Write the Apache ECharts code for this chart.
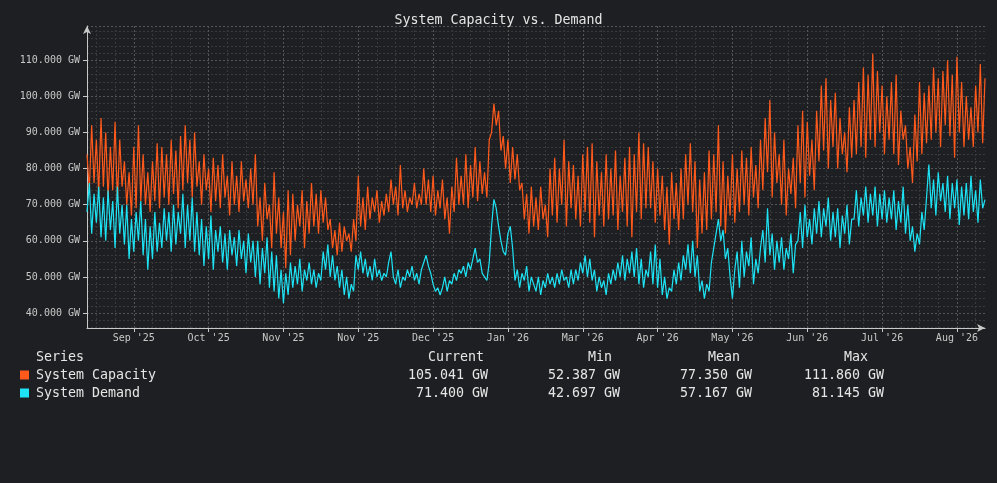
<!DOCTYPE html>
<html lang="en">
<head>
    <meta charset="UTF-8">
    <title>System Capacity vs. Demand</title>
    <script type="text/javascript" src="https://cdn.jsdelivr.net/npm/echarts@6/dist/echarts.min.js"></script>
    <style>
        html, body { margin: 0; padding: 0; background: #1e1f22; }
        #chart { width: 997px; height: 483px; }
    </style>
</head>
<body>
<div id="chart"></div>
<script type="text/javascript">
    // x axis month labels (one per major tick)
    var tickLabels = ["Sep '25", "Oct '25", "Nov '25", "Nov '25", "Dec '25", "Jan '26",
        "Mar '26", "Apr '26", "May '26", "Jun '26", "Jul '26", "Aug '26"];

    // System Capacity (GW)
    var capacity = [
        84, 74, 92, 76, 88, 73, 94, 75, 90, 72, 86, 74, 93, 71, 88, 75,
        82, 70, 79, 67, 86, 69, 92, 71, 84, 70, 79, 68, 82, 71, 87, 69,
        86, 72, 84, 70, 88, 73, 85, 69, 89, 74, 92, 76, 88, 72, 90, 75,
        82, 70, 84, 74, 80, 68, 83, 71, 81, 69, 84, 72, 78, 67, 82, 70,
        78, 68, 82, 71, 77, 69, 80, 70, 84, 64, 72, 60, 76, 66, 70, 58,
        79, 62, 72, 58, 68, 52.387, 74, 56, 73, 60, 70, 64, 74, 58, 71, 62,
        76, 64, 73, 62, 74, 65, 72, 63, 66, 58, 63, 56, 65, 57, 64, 60,
        62, 57, 66, 60, 78, 64, 72, 63, 75, 66, 72, 68, 74, 65, 71, 67,
        73, 68, 77, 70, 75, 67, 81, 69, 74, 68, 72, 70, 76, 69, 73, 70,
        80, 70, 77, 68, 78, 67, 74, 69, 77, 66, 72, 62, 75, 68, 83, 70,
        78, 70, 84, 69, 81, 72, 86, 71, 82, 73, 79, 72, 88, 90, 98, 92,
        96, 85, 89, 80, 88, 76, 86, 77, 84, 74, 76, 66, 73, 62, 75, 64,
        72, 63, 75, 66, 70, 61, 80, 67, 83, 65, 80, 70, 88, 64, 82, 69,
        81, 66, 78, 64, 84, 68, 86, 65, 87, 61, 82, 67, 79, 64, 84, 66,
        80, 67, 85, 63, 78, 68, 83, 64, 86, 61, 84, 68, 90, 66, 87, 69,
        86, 69, 82, 65, 80, 67, 78, 63, 75, 59, 79, 66, 76, 63, 80, 66,
        84, 70, 87, 68, 82, 58, 77, 62, 79, 63, 85, 66, 84, 68, 92, 64,
        82, 62, 78, 67, 84, 65, 80, 68, 85, 70, 83, 67, 86, 72, 81, 69,
        88, 74, 94, 79, 99, 72, 90, 76, 84, 70, 88, 67, 80, 73, 83, 69,
        92, 76, 96, 72, 93, 78, 88, 74, 96, 82, 103, 85, 105, 80, 99, 86,
        101, 80, 94, 84, 90, 79, 97, 83, 99, 84, 104, 86, 108, 83, 106, 88,
        111.86, 86, 107, 90, 103, 84, 100, 88, 104, 84, 106, 81, 96, 88, 92, 80,
        86, 76, 95, 82, 104, 84, 101, 87, 103, 88, 108, 90, 105, 86, 107, 92,
        110, 89, 106, 83, 111, 90, 104, 86, 100, 88, 97, 86, 103, 90, 109, 87,
        105.041
    ];

    // System Demand (GW)
    var demand = [
        68, 76, 62, 73, 65, 75, 61, 72, 60, 74, 63, 71, 58, 75, 62, 70,
        59, 70, 55, 66, 57, 68, 60, 71, 56, 66, 52, 64, 55, 68, 57, 65,
        58, 69, 60, 68, 57, 70, 59, 68, 62, 73, 58, 70, 60, 72, 57, 68,
        56, 66, 53, 64, 55, 67, 52, 63, 57, 64, 54, 62, 52, 63, 56, 61,
        53, 63, 55, 60, 51, 62, 54, 60, 50, 60, 48, 58, 51, 61, 47, 57,
        46, 56, 44, 52, 42.697, 51, 45, 54, 47, 53, 48, 55, 46, 52, 49, 54,
        48, 52, 47, 51, 49, 57, 52, 59, 50, 56, 49, 53, 47, 52, 45, 50,
        44, 48, 46, 56, 52, 57, 51, 55, 50, 53, 49, 55, 50, 52, 49, 51,
        50, 54, 57, 50, 48, 52, 47, 50, 49, 52, 50, 53, 49, 51, 48, 52,
        54, 56, 53, 51, 48, 46, 47, 45, 47, 50, 46, 49, 48, 51, 49, 52,
        51, 53, 50, 54, 52, 55, 58, 54, 55, 51, 50, 49, 54, 64, 71.5, 69,
        64, 60, 57, 56, 62, 64, 58, 49, 52, 47, 51, 49, 53, 46, 50, 48,
        46, 50, 45, 49, 47, 51, 48, 50, 47, 51, 48, 52, 49, 50, 47, 52,
        48, 52, 49, 54, 51, 56, 50, 55, 49, 52, 46, 50, 47, 49, 45, 51,
        48, 52, 49, 54, 50, 56, 49, 55, 51, 57, 50, 58, 48, 55, 47, 52,
        50, 57, 48, 59, 47, 55, 45, 50, 44, 47, 46, 52, 48, 54, 49, 56,
        52, 59, 51, 60, 50, 56, 46, 49, 44, 48, 46, 54, 58, 62, 66, 60,
        63, 55, 58, 50, 44, 52, 57, 47, 60, 50, 57, 53, 61, 48, 55, 51,
        58, 63, 54, 69, 56, 62, 52, 60, 54, 61, 52, 58, 55, 62, 51, 59,
        60, 68, 58, 70, 61, 66, 59, 69, 62, 71, 61, 69, 64, 72, 60, 68,
        61, 69, 58, 67, 62, 70, 59, 66, 66, 74, 64, 72, 67, 75, 65, 73,
        67, 75, 64, 73, 66, 74, 65, 72, 66, 74, 63, 71, 65, 75, 62, 70,
        60, 64, 57, 62, 59, 68, 63, 72, 81.145, 69, 77, 67, 79, 71, 76, 68,
        78, 66, 76, 69, 77, 64.4, 75, 67, 76, 66, 78, 68, 74, 65, 77, 69,
        71.4
    ];

    // legend table
    var seriesNames = ['System Capacity', 'System Demand'];
    var seriesColors = ['#ff5a1c', '#1ee3f5'];
    var statCurrent = [105.041, 71.400];
    var statMin = [52.387, 42.697];
    var statMean = [77.350, 57.167];
    var statMax = [111.860, 81.145];

    var mono = 'DejaVu Sans Mono';
    var axisColor = '#c8c8c8';
    var textColor = '#e6e6e6';

    var cats = capacity.map(function (v, i) { return String(i); });
    function isMajor(i) { return i >= 20 && (i - 20) % 32 === 0; }
    function isMinor(i) { return (i - 4) % 8 === 0 && !isMajor(i); }

    var graphics = [];
    var headers = [['Series', 36], ['Current', 428], ['Min', 588], ['Mean', 708], ['Max', 844]];
    headers.forEach(function (h) {
        graphics.push({
            type: 'text', left: h[1], top: 351,
            style: {text: h[0], fill: textColor, font: '13.3px ' + mono}
        });
    });
    var colRight = [488, 620, 752, 884];
    seriesNames.forEach(function (name, r) {
        var y = 369 + r * 18;
        graphics.push({
            type: 'rect', shape: {x: 20, y: y + 1.5, width: 9, height: 9},
            style: {fill: seriesColors[r]}
        });
        graphics.push({
            type: 'text', left: 36, top: y,
            style: {text: name, fill: textColor, font: '13.3px ' + mono}
        });
        [statCurrent, statMin, statMean, statMax].forEach(function (arr, c) {
            graphics.push({
                type: 'text', right: 997 - colRight[c], top: y,
                style: {text: arr[r].toFixed(3) + ' GW', fill: textColor, font: '13.3px ' + mono}
            });
        });
    });

    var chart = echarts.init(document.getElementById('chart'));
    chart.setOption({
        backgroundColor: '#1e1f22',
        animation: false,
        title: {
            text: 'System Capacity vs. Demand',
            left: 'center',
            top: 14,
            padding: 0,
            textStyle: {color: textColor, fontFamily: mono, fontSize: 13.3, fontWeight: 'normal'}
        },
        grid: {left: 87, right: 12, top: 26, bottom: 155},
        xAxis: [{
            type: 'category',
            data: cats,
            boundaryGap: false,
            axisLine: {symbol: ['none', 'arrow'], symbolSize: [6, 8], lineStyle: {color: axisColor}},
            axisTick: {interval: function (i) { return isMajor(i); }, length: 4, lineStyle: {color: axisColor}},
            axisLabel: {
                interval: function (i) { return isMajor(i); },
                formatter: function (v) { return tickLabels[(Number(v) - 20) / 32]; },
                color: axisColor, fontFamily: mono, fontSize: 10, margin: 5
            },
            splitLine: {
                show: true,
                interval: function (i) { return isMajor(i); },
                lineStyle: {color: '#555', type: [2, 2]}
            }
        }, {
            type: 'category',
            data: cats,
            boundaryGap: false,
            position: 'bottom',
            axisLine: {show: false},
            axisTick: {show: false},
            axisLabel: {show: false},
            splitLine: {
                show: true,
                interval: function (i) { return isMinor(i); },
                lineStyle: {color: '#3a3a3a', type: [2, 2]}
            }
        }],
        yAxis: {
            type: 'value',
            min: 35.85,
            max: 119.5,
            splitNumber: 8,
            axisLine: {show: true, symbol: ['none', 'arrow'], symbolSize: [6, 8], lineStyle: {color: axisColor}},
            axisTick: {show: true, length: 4, lineStyle: {color: axisColor}},
            axisLabel: {
                formatter: function (v) { return v.toFixed(3) + ' GW'; },
                showMinLabel: false, showMaxLabel: false,
                color: axisColor, fontFamily: mono, fontSize: 10, margin: 7
            },
            splitLine: {lineStyle: {color: '#555', type: [2, 2]}},
            minorTick: {show: false, splitNumber: 5},
            minorSplitLine: {show: true, lineStyle: {color: '#3a3a3a', type: [2, 2]}}
        },
        series: [{
            name: seriesNames[0],
            type: 'line',
            data: capacity,
            showSymbol: false,
            lineStyle: {width: 1.2, color: seriesColors[0]},
            itemStyle: {color: seriesColors[0]}
        }, {
            name: seriesNames[1],
            type: 'line',
            data: demand,
            showSymbol: false,
            lineStyle: {width: 1.2, color: seriesColors[1]},
            itemStyle: {color: seriesColors[1]}
        }],
        graphic: graphics
    });
</script>
</body>
</html>
